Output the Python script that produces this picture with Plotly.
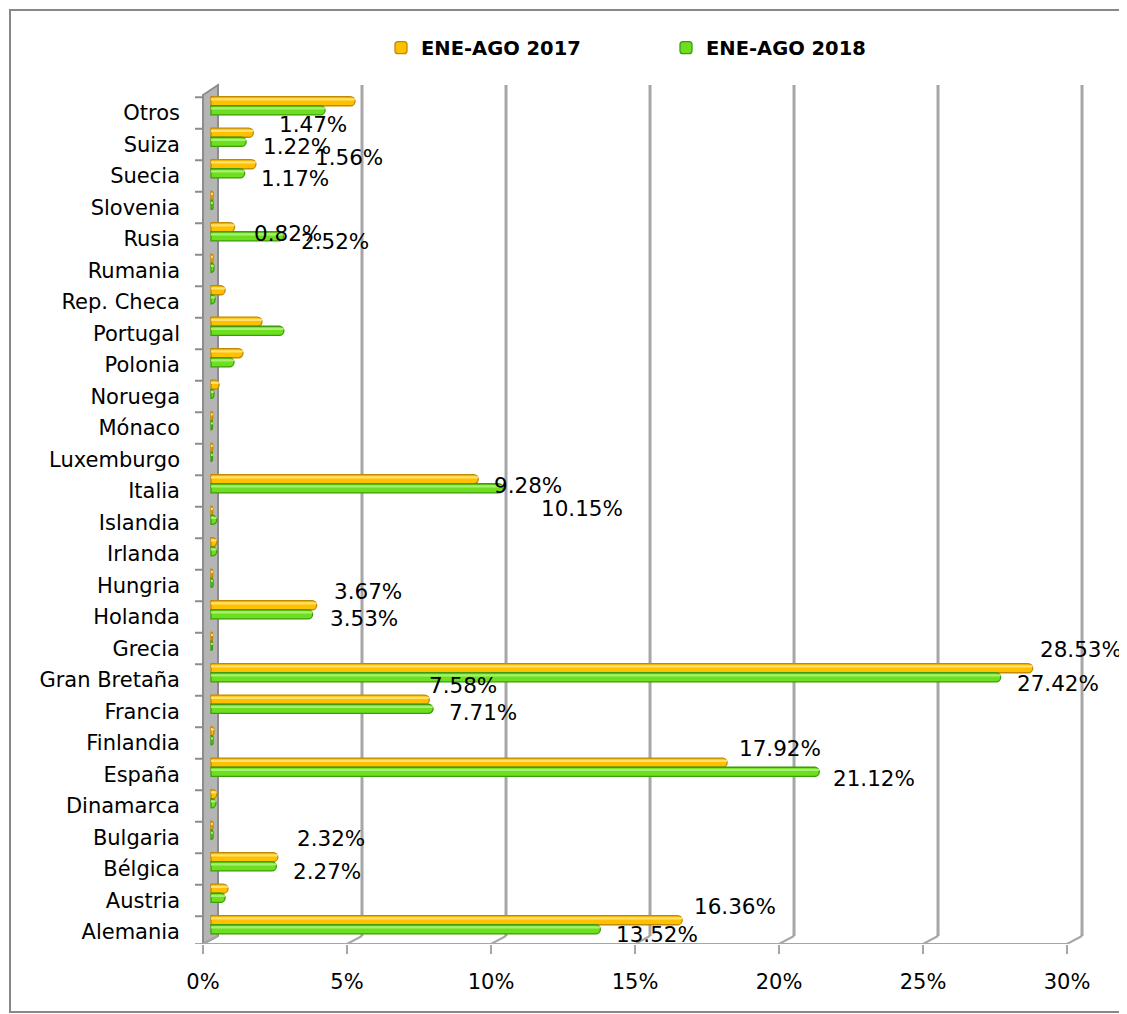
import plotly.graph_objects as go

# ---------------- data ----------------
categories = ["Otros", "Suiza", "Suecia", "Slovenia", "Rusia", "Rumania", "Rep. Checa",
              "Portugal", "Polonia", "Noruega", "Mónaco", "Luxemburgo", "Italia",
              "Islandia", "Irlanda", "Hungria", "Holanda", "Grecia", "Gran Bretaña",
              "Francia", "Finlandia", "España", "Dinamarca", "Bulgaria", "Bélgica",
              "Austria", "Alemania"]
series_names = ["ENE-AGO 2017", "ENE-AGO 2018"]
v2017 = [5.00, 1.47, 1.56, 0.07, 0.82, 0.07, 0.49, 1.77, 1.11, 0.28, 0.06, 0.06, 9.28,
         0.06, 0.20, 0.06, 3.67, 0.05, 28.53, 7.58, 0.10, 17.92, 0.20, 0.07, 2.32,
         0.59, 16.36]
v2018 = [3.96, 1.22, 1.17, 0.07, 2.52, 0.10, 0.14, 2.53, 0.80, 0.10, 0.05, 0.05, 10.15,
         0.20, 0.20, 0.07, 3.53, 0.05, 27.42, 7.71, 0.07, 21.12, 0.17, 0.07, 2.27,
         0.49, 13.52]
x_ticks = [0, 5, 10, 15, 20, 25, 30]
x_tick_labels = ["0%", "5%", "10%", "15%", "20%", "25%", "30%"]

# categories whose bars carry a data label in the original
labels_2017 = ["Suiza", "Suecia", "Rusia", "Italia", "Holanda", "Gran Bretaña",
               "Francia", "España", "Bélgica", "Alemania"]
labels_2018 = ["Suiza", "Suecia", "Rusia", "Italia", "Holanda", "Gran Bretaña",
               "Francia", "España", "Bélgica", "Alemania"]
# label offsets in px (dx right, dy down) relative to bar end / bar centre
label_off_2017 = [(24, -8), (57, -7), (17, 6), (14, 6), (15, -14), (5, -19),
                  (-2, -14), (10, -14), (17, -19), (10, -14)]
label_off_2018 = [(15, 5), (14, 5), (15, 5), (36, 20), (15, 4), (14, 6),
                  (14, 4), (12, 7), (15, 5), (14, 5)]

# ---------------- layout geometry ----------------
PAGE = 8                                  # browser body margin
W, H = 1127 - PAGE, 1014 - PAGE
L, R, T, B = 195 - PAGE, 1090 - PAGE, 80 - PAGE, 944 - PAGE   # plot area in px
n = len(categories)
idx = {c: n - 1 - i for i, c in enumerate(categories)}   # Otros on top
ypos = [idx[c] for c in categories]

XR = [-0.556, 30.52]          # bar plane
FRONT = 0.278                 # front plane shift (data units, left)
BACK = 0.243                  # back plane shift (data units, right)
YR = [-0.381, 27.048]
Y_BACK_TOP, Y_BACK_BOT = 26.889, -0.127
Y_FRONT_TOP, Y_FRONT_BOT = 26.571, -0.381
OFF17, OFF18, BW = 0.375, 0.085, 0.29


def px2paper_x(px):
    return (px - PAGE - L) / (R - L)


def px2paper_y(py):
    return (B - (py - PAGE)) / (B - T)


FONT = "DejaVu Sans"
YEL, YEL_LINE, YEL_HI = "#FFC000", "#C08A00", "#FFE070"
GRN, GRN_LINE, GRN_HI = "#6CE01E", "#3F9A0C", "#A8F070"
GRID = "#A6A6A6"

fig = go.Figure()

fig.add_trace(go.Bar(
    x=v2017, y=[p + OFF17 for p in ypos], orientation="h", width=BW,
    name=series_names[0],
    marker=dict(color=YEL, line=dict(color=YEL_LINE, width=1.3), cornerradius=5),
    hovertemplate="%{x:.2f}%<extra>" + series_names[0] + "</extra>"))
fig.add_trace(go.Bar(
    x=v2018, y=[p + OFF18 for p in ypos], orientation="h", width=BW,
    name=series_names[1],
    marker=dict(color=GRN, line=dict(color=GRN_LINE, width=1.3), cornerradius=5),
    hovertemplate="%{x:.2f}%<extra>" + series_names[1] + "</extra>"))
# thin highlights to suggest the cylinder shading
fig.add_trace(go.Bar(
    x=v2017, y=[p + OFF17 + 0.06 for p in ypos], orientation="h", width=0.07,
    marker=dict(color=YEL_HI, line=dict(width=0), cornerradius=2),
    showlegend=False, hoverinfo="skip"))
fig.add_trace(go.Bar(
    x=v2018, y=[p + OFF18 + 0.06 for p in ypos], orientation="h", width=0.07,
    marker=dict(color=GRN_HI, line=dict(width=0), cornerradius=2),
    showlegend=False, hoverinfo="skip"))
# invisible helper trace for the front (labelled) axis
fig.add_trace(go.Scatter(x=[x_ticks[0], x_ticks[-1]], y=[0, 0], xaxis="x2",
                         mode="markers", marker=dict(opacity=0), showlegend=False,
                         hoverinfo="skip"))

shapes = []
# back wall (left)
shapes.append(dict(type="path", xref="x", yref="y", layer="below",
                   path=f"M {-FRONT},{Y_FRONT_TOP} L {BACK},{Y_BACK_TOP} L {BACK},{Y_BACK_BOT} "
                        f"L {-FRONT},{Y_FRONT_BOT} Z",
                   fillcolor="#B5B5B5", line=dict(color="#8C8C8C", width=2)))
# vertical gridlines on back plane + diagonal floor lines
for v in x_ticks[1:]:
    shapes.append(dict(type="line", xref="x", yref="y", layer="below",
                       x0=v + BACK, x1=v + BACK, y0=Y_BACK_TOP, y1=Y_BACK_BOT,
                       line=dict(color=GRID, width=3)))
for v in x_ticks:
    shapes.append(dict(type="line", xref="x", yref="y", layer="below",
                       x0=v + BACK, x1=v - FRONT, y0=Y_BACK_BOT, y1=Y_FRONT_BOT,
                       line=dict(color=GRID, width=2)))
# front floor line
shapes.append(dict(type="line", xref="x", yref="y", layer="below",
                   x0=XR[0], x1=x_ticks[-1] - FRONT, y0=Y_FRONT_BOT, y1=Y_FRONT_BOT,
                   line=dict(color=GRID, width=2)))
# category tick marks on the wall's left
for k in range(n):
    yb = k + 0.5
    shapes.append(dict(type="line", xref="x", yref="y", layer="below",
                       x0=XR[0], x1=-FRONT, y0=yb, y1=yb,
                       line=dict(color="#8C8C8C", width=2)))
# chart border
shapes.append(dict(type="rect", xref="paper", yref="paper", layer="below",
                   x0=px2paper_x(10), x1=px2paper_x(1120),
                   y0=px2paper_y(1012), y1=px2paper_y(10),
                   line=dict(color="#888888", width=2), fillcolor="rgba(0,0,0,0)"))

annotations = []
for c, (dx, dy) in zip(labels_2017, label_off_2017):
    i = categories.index(c)
    annotations.append(dict(x=v2017[i], y=ypos[i] + OFF17, xref="x", yref="y",
                            text=f"{v2017[i]:.2f}%", showarrow=False, xanchor="left",
                            yanchor="middle", xshift=dx, yshift=-dy,
                            font=dict(family=FONT, size=21.5, color="#000")))
for c, (dx, dy) in zip(labels_2018, label_off_2018):
    i = categories.index(c)
    annotations.append(dict(x=v2018[i], y=ypos[i] + OFF18, xref="x", yref="y",
                            text=f"{v2018[i]:.2f}%", showarrow=False, xanchor="left",
                            yanchor="middle", xshift=dx, yshift=-dy,
                            font=dict(family=FONT, size=21.5, color="#000")))

fig.update_layout(
    width=W, height=H,
    margin=dict(l=L, r=W - R, t=T, b=H - B, pad=0),
    paper_bgcolor="white", plot_bgcolor="white",
    barmode="overlay",
    font=dict(family=FONT, size=21, color="#000"),
    shapes=shapes, annotations=annotations,
    showlegend=True,
    legend=dict(orientation="h", x=px2paper_x(381), xanchor="left",
                y=px2paper_y(48), yanchor="middle",
                font=dict(family=FONT, size=19.5, color="#000", weight="bold"),
                entrywidth=240, itemwidth=30, bgcolor="rgba(0,0,0,0)"),
    xaxis=dict(range=XR, visible=False, fixedrange=True),
    xaxis2=dict(range=[XR[0] + FRONT, XR[1] + FRONT], overlaying="x", side="bottom",
                anchor="y", tickvals=x_ticks, ticktext=x_tick_labels,
                ticks="outside", ticklen=9, tickwidth=2, tickcolor=GRID,
                showgrid=False, zeroline=False, showline=False,
                ticklabelstandoff=10, tickfont=dict(family=FONT, size=21)),
    yaxis=dict(range=YR, tickvals=ypos, ticktext=categories, ticks="",
               showgrid=False, zeroline=False, showline=False,
               ticklabelstandoff=14, tickfont=dict(family=FONT, size=21)),
)

fig.write_html("out.html")
